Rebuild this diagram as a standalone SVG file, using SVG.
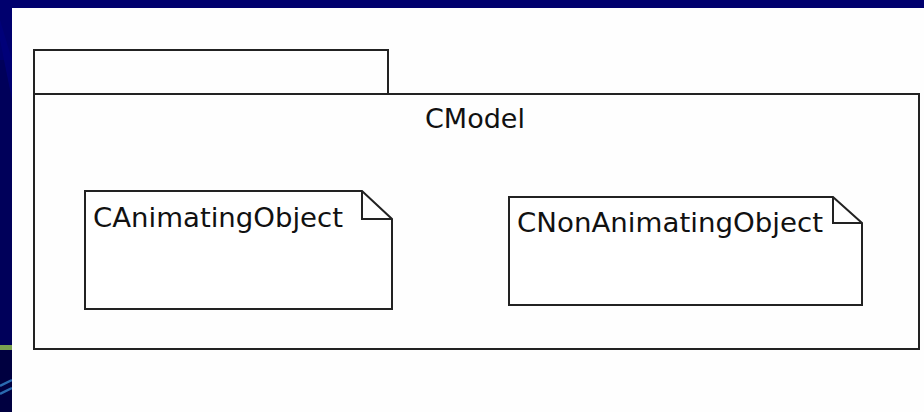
<svg xmlns="http://www.w3.org/2000/svg" width="924" height="412" viewBox="0 0 924 412">
<style>
.bg{fill:#00006e}
.sh{fill:none;stroke:#222;stroke-width:2}
.note{fill:#fff;stroke:#222;stroke-width:2}
.lbl{font-family:"DejaVu Sans","Liberation Sans",sans-serif;font-size:27px;fill:#111}
</style>
<rect class="bg" x="0" y="0" width="924" height="412"/>
<rect x="0" y="60" width="12" height="352" fill="#00005a"/>
<path d="M0 40 L12 100 L12 60 L0 20 Z" fill="#000080" opacity="0.6"/>
<rect x="0" y="345" width="12" height="5" fill="#7aa050"/>
<rect x="0" y="350" width="12" height="62" fill="#000040"/>
<path d="M0 386 L12 380 M0 394 L12 388" stroke="#2a6ab0" stroke-width="2.5" fill="none"/>
<rect x="12" y="8" width="912" height="404" fill="#fefefe"/>
<g id="CModel">
<rect class="sh" x="34" y="50" width="354" height="44"/>
<rect class="sh" x="34" y="94" width="885" height="255"/>
<text class="lbl" x="475" y="128" text-anchor="middle" textLength="100" lengthAdjust="spacingAndGlyphs">CModel</text>
</g>
<g id="CAnimatingObject">
<path class="note" d="M85 191 H362 L392 219 V309 H85 Z"/>
<path class="sh" d="M362 191 V219 H392"/>
<text class="lbl" x="93" y="227" textLength="250" lengthAdjust="spacingAndGlyphs">CAnimatingObject</text>
</g>
<g id="CNonAnimatingObject">
<path class="note" d="M509 197 H833 L862 223 V305 H509 Z"/>
<path class="sh" d="M833 197 V223 H862"/>
<text class="lbl" x="517" y="232" textLength="306" lengthAdjust="spacingAndGlyphs">CNonAnimatingObject</text>
</g>
<g id="connectors"></g>
</svg>
